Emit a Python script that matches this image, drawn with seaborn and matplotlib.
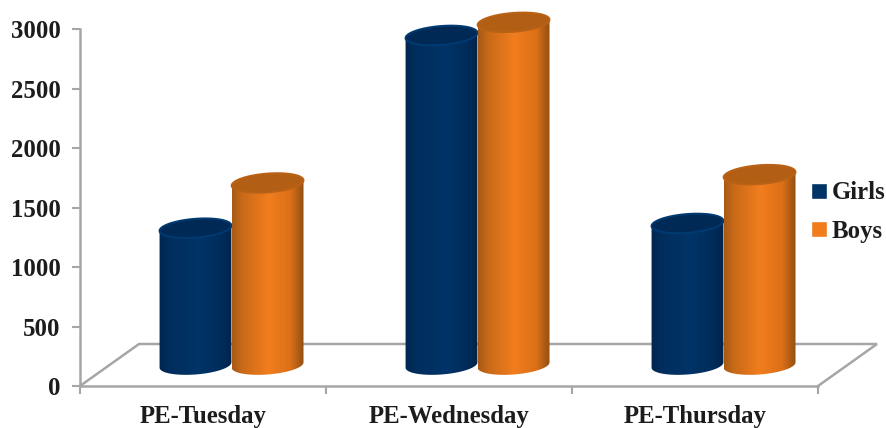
import numpy as np
import pandas as pd
import seaborn as sns
import matplotlib
matplotlib.use("Agg")
import matplotlib.pyplot as plt
from matplotlib.colors import LinearSegmentedColormap
from matplotlib.patches import Patch, PathPatch
from matplotlib.path import Path

days = ["PE-Tuesday", "PE-Wednesday", "PE-Thursday"]
girls = [1150, 2770, 1190]
boys = [1530, 2880, 1600]
series_names = ["Girls", "Boys"]
y_ticks = [0, 500, 1000, 1500, 2000, 2500, 3000]

W, H = 887, 428
AX_L, AX_R, AX_T, AX_B = 80, 818, 29, 386
GREY = "#a6a6a6"
INK = "#1c1c1c"
FONT_SIZE = 17.8
TILT = np.deg2rad(4.5)
RY_PX = 9.4
DEPTH_DX = 59 / 246      # floor depth, in category units
DEPTH_DY = 353           # floor depth, in value units
BASE = 176               # cylinders stand halfway across the floor
CYL_SHIFT = 0.116        # sideways offset of the cylinders on the floor

sns.set_theme(style="white")
plt.rcParams["font.family"] = ["Liberation Serif", "DejaVu Serif"]
plt.rcParams["font.weight"] = "bold"

fig = plt.figure(figsize=(W / 100, H / 100), dpi=100)
ax = fig.add_axes([AX_L / W, 1 - AX_B / H, (AX_R - AX_L) / W, (AX_B - AX_T) / H])

table = pd.DataFrame({
    "day": days * 2,
    "group": [series_names[0]] * 3 + [series_names[1]] * 3,
    "value": girls + boys,
})
palette = {"Girls": "#003366", "Boys": "#f07c1c"}
sns.barplot(data=table, x="day", y="value", hue="group", hue_order=series_names,
            palette=palette, width=0.586, gap=0, legend=False, ax=ax)
ax.set_xlim(-0.5, 2.5)
ax.set_ylim(0, 3000)

PX_X = (AX_R - AX_L) / 3
PX_Y = (AX_B - AX_T) / 3000

styles = {
    "Girls": dict(
        body=[(0, "#00264f"), (0.12, "#002d5c"), (0.55, "#003468"), (0.85, "#002c5a"), (1, "#00244b")],
        cap="#002a55", rim="#003a72"),
    "Boys": dict(
        body=[(0, "#a65a16"), (0.14, "#c96a18"), (0.5, "#f27d1d"), (0.8, "#dc7018"), (1, "#8d4c12")],
        cap="#b25e14", rim="#b96216"),
}


def ring(cx, cy, rx_px, t):
    """Points of a tilted ellipse, given in data coordinates."""
    dx = rx_px * np.cos(t) * np.cos(TILT) - RY_PX * np.sin(t) * np.sin(TILT)
    dy = rx_px * np.cos(t) * np.sin(TILT) + RY_PX * np.sin(t) * np.cos(TILT)
    return np.column_stack([cx + dx / PX_X, cy + dy / PX_Y])


def draw_cylinder(rect, style, z):
    width = rect.get_width()
    cx = rect.get_x() + width / 2 + CYL_SHIFT
    top = BASE + rect.get_height()
    rx_px = width * PX_X / 2

    lower = ring(cx, BASE, rx_px, np.linspace(np.pi, 2 * np.pi, 60))
    upper = ring(cx, top, rx_px, np.linspace(0, np.pi, 60))
    outline = np.vstack([lower, upper, lower[:1]])
    shape = PathPatch(Path(outline), transform=ax.transData)

    cmap = LinearSegmentedColormap.from_list("shade", style["body"])
    im = ax.imshow(np.linspace(0, 1, 256)[None, :], cmap=cmap, aspect="auto",
                   interpolation="bilinear", zorder=z,
                   extent=[cx - width / 2, cx + width / 2, BASE - 200, top + 200])
    im.set_clip_box(fig.bbox)
    im.set_clip_path(shape)

    cap = ring(cx, top, rx_px, np.linspace(0, 2 * np.pi, 120))
    ax.add_patch(PathPatch(Path(cap), facecolor=style["cap"], edgecolor=style["rim"],
                           linewidth=1.4, zorder=z + 0.1, clip_on=False))


for group, container in zip(series_names, ax.containers):
    for rect in container:
        rect.set_visible(False)
        draw_cylinder(rect, styles[group], 3 if group == "Girls" else 4)

# Floor of the 3D box, behind the cylinders
x0, x1 = -0.5, 2.5
ax.plot([x0, x0 + DEPTH_DX, x1 + DEPTH_DX, x1], [0, DEPTH_DY, DEPTH_DY, 0],
        color=GREY, lw=1.8, clip_on=False, zorder=1, solid_joinstyle="miter")

ax.set_xlim(x0, x1)
ax.set_ylim(0, 3000)
ax.set_xlabel("")
ax.set_ylabel("")
ax.set_yticks(y_ticks)
ax.set_xticks([-0.5, 0.5, 1.5, 2.5], labels=[])
ax.set_xticks([0, 1, 2], labels=days, minor=True)
ax.tick_params(axis="x", which="major", length=6, width=1.5, color=GREY, bottom=True)
ax.tick_params(axis="x", which="minor", length=0, pad=14, labelsize=FONT_SIZE, labelcolor=INK)
ax.tick_params(axis="y", length=6, width=1.5, color=GREY, left=True, pad=8,
               labelsize=FONT_SIZE, labelcolor=INK)
sns.despine(ax=ax)
for side in ("left", "bottom"):
    ax.spines[side].set_color(GREY)
    ax.spines[side].set_linewidth(1.8)

handles = [Patch(facecolor=palette[name], label=name) for name in series_names]
fig.legend(handles=handles, loc="upper left", bbox_to_anchor=(809 / W, 1 - 179 / H),
           frameon=False, fontsize=FONT_SIZE, labelcolor=INK, handlelength=0.62,
           handleheight=0.62, handletextpad=0.2, labelspacing=0.62,
           borderpad=0.1, borderaxespad=0)

fig.savefig("out.png", dpi=100, facecolor="white")
